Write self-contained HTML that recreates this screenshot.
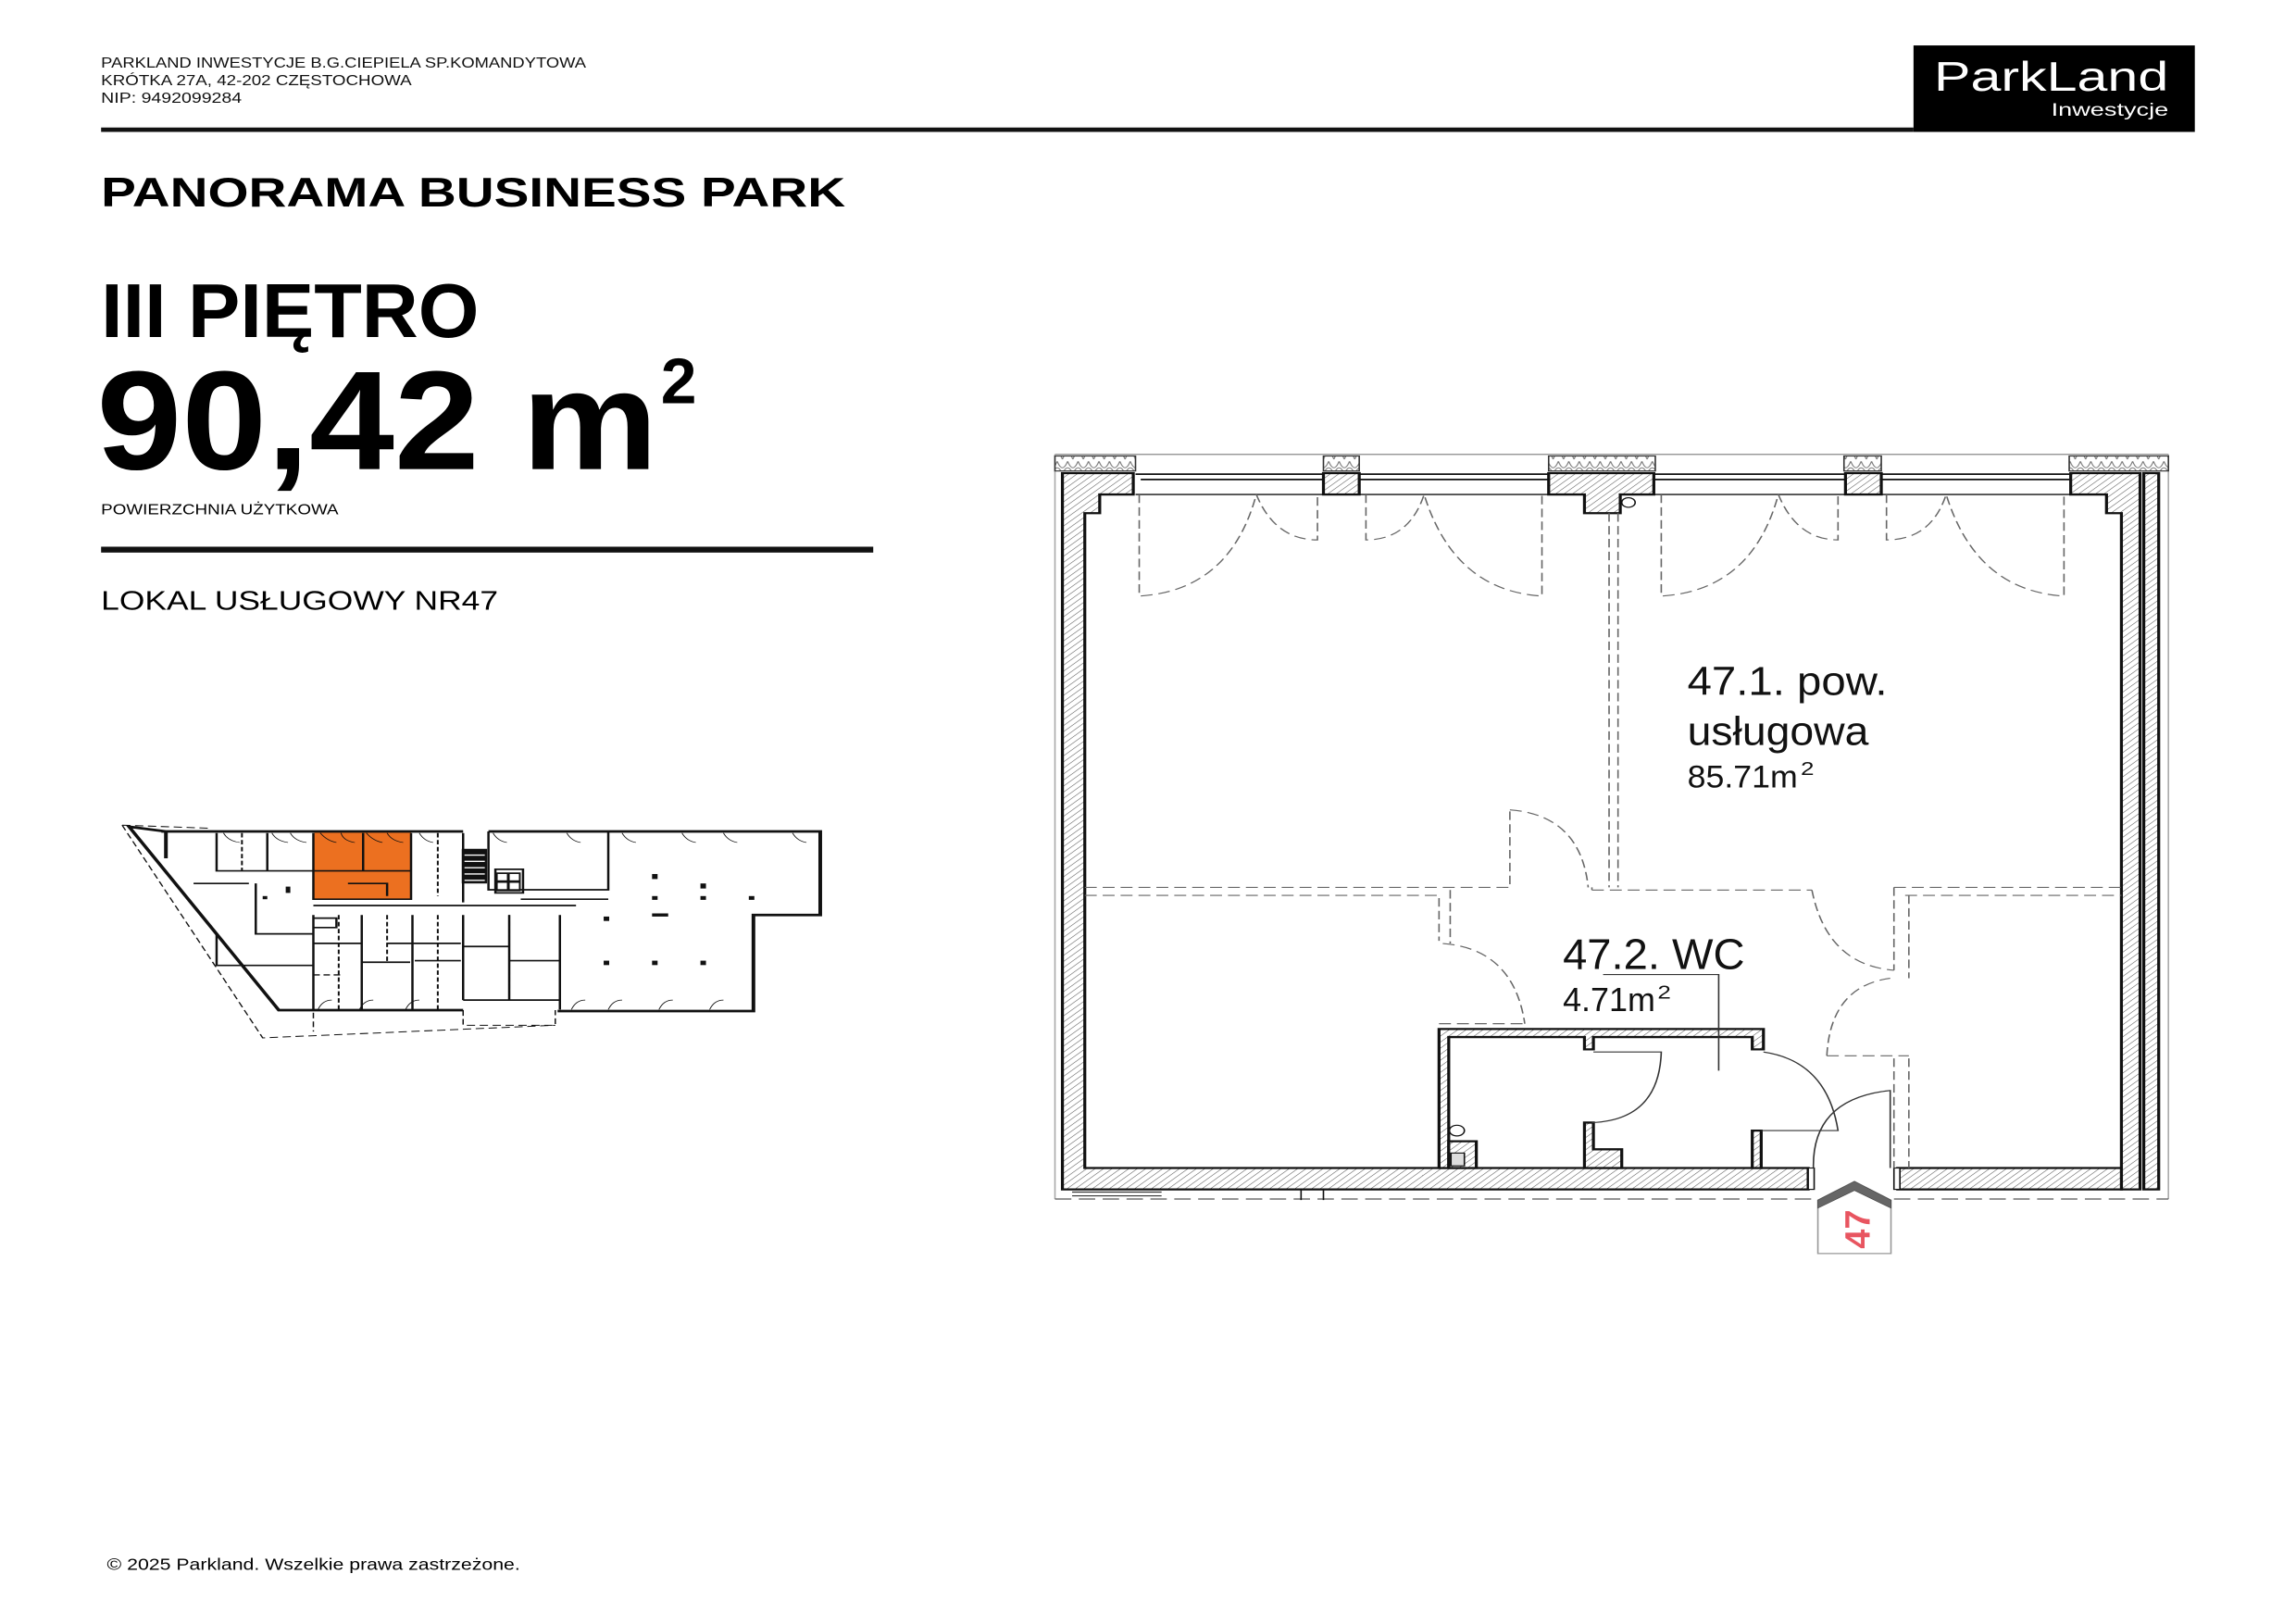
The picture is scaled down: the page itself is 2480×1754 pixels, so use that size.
<!DOCTYPE html>
<html><head><meta charset="utf-8"><style>
html,body{margin:0;padding:0;background:#fff;}
svg{display:block;}
</style></head><body>
<svg width="2480" height="1754" viewBox="0 0 1560 1103" preserveAspectRatio="none" xmlns="http://www.w3.org/2000/svg" font-family="Liberation Sans, DejaVu Sans, sans-serif">
<defs>
<pattern id="h" width="8" height="8" patternUnits="userSpaceOnUse" patternTransform="rotate(45)">
<rect width="8" height="8" fill="#fff"/><line x1="0" y1="0" x2="0" y2="8" stroke="#555" stroke-width="1.6"/></pattern>
<pattern id="z" width="14" height="28" patternUnits="userSpaceOnUse">
<rect width="14" height="28" fill="#fff"/><path d="M0 2 Q7 26 14 2" fill="none" stroke="#777" stroke-width="1.5"/><path d="M-7 26 Q0 2 7 26 M7 26 Q14 2 21 26" fill="none" stroke="#777" stroke-width="1.5"/></pattern>
</defs>
<rect width="1560" height="1103" fill="#fff"/>
<g transform="scale(0.9955)">
<g font-size="10" fill="#111">
<text x="69" y="46" textLength="331" lengthAdjust="spacingAndGlyphs">PARKLAND INWESTYCJE B.G.CIEPIELA SP.KOMANDYTOWA</text>
<text x="69" y="58" textLength="212" lengthAdjust="spacingAndGlyphs">KRÓTKA 27A, 42-202 CZĘSTOCHOWA</text>
<text x="69" y="70" textLength="96" lengthAdjust="spacingAndGlyphs">NIP: 9492099284</text>
</g>
<rect x="69" y="87" width="1237" height="3" fill="#111"/>
<rect x="1306" y="31" width="192" height="59" fill="#000"/>
<text x="1320" y="62" fill="#fff" font-size="28" textLength="160" lengthAdjust="spacingAndGlyphs">ParkLand</text>
<text x="1400" y="79" fill="#fff" font-size="12" textLength="80" lengthAdjust="spacingAndGlyphs">Inwestycje</text>
<text x="69" y="141" font-size="28" font-weight="bold" textLength="508" lengthAdjust="spacingAndGlyphs">PANORAMA BUSINESS PARK</text>
<text x="69" y="230" font-size="52" font-weight="bold" textLength="258" lengthAdjust="spacingAndGlyphs">III PIĘTRO</text>
<text x="66" y="320" font-size="96" font-weight="bold" textLength="383" lengthAdjust="spacingAndGlyphs">90,42 m</text>
<text x="451" y="275" font-size="44" font-weight="bold">2</text>
<text x="69" y="351" font-size="10" textLength="162" lengthAdjust="spacingAndGlyphs">POWIERZCHNIA UŻYTKOWA</text>
<rect x="69" y="373" width="527" height="4" fill="#111"/>
<text x="69" y="416" font-size="18" textLength="271" lengthAdjust="spacingAndGlyphs">LOKAL USŁUGOWY NR47</text>
<text x="73" y="1071" font-size="11" textLength="282" lengthAdjust="spacingAndGlyphs">© 2025 Parkland. Wszelkie prawa zastrzeżone.</text>

<g transform="translate(75.5,553.3) scale(0.3145,0.215)" fill="none" stroke="#111">
<rect x="442" y="68" width="210" height="210" fill="#ec7020" stroke="none"/>
<path d="M110 65 H765 M820 65 H1540 V330 H1395 V635 H970 M765 632 H365 L40 50 L120 65 V150" stroke-width="8"/>
<path d="M25 45 L220 55 M25 45 L330 720 L965 680 M440 640 V700 M765 632 V680 H965 V632 M370 632 H440" stroke-width="3" stroke-dasharray="18 10"/>
<g stroke-width="5">
<path d="M230 70 V190 H440 M440 70 V280 H652 V70 M652 70 V278 M765 70 V290 M820 65 V250 H1080 V65 M1080 280 H890 M340 70 V190 M440 190 H652 M548 70 V190"/>
<path d="M440 300 H1010 M440 330 V630 M655 330 V630 M765 330 V600 M975 330 V630 M545 330 V630 M865 330 V600 M315 230 V390 H440 M230 390 V490 H440 M180 230 H300 M765 600 H975"/>
<path d="M440 420 H545 M600 420 H760 M765 430 H865 M545 480 H650 M660 475 H760 M865 475 H975 M515 230 H600 V270 M835 185 H895 V260 H835 Z M440 340 H490 V370 H440"/>
</g>
<g stroke-width="4" stroke-dasharray="14 8"><path d="M285 70 V190 M440 520 H500 M495 330 V630 M600 330 V480 M710 330 V630 M865 330 V600 M710 70 V270"/></g>
<g fill="#111" stroke="none"><rect x="1175" y="200" width="12" height="16"/><rect x="1280" y="230" width="12" height="16"/><rect x="1175" y="270" width="12" height="12"/><rect x="1280" y="270" width="12" height="12"/><rect x="1385" y="270" width="12" height="12"/><rect x="1070" y="335" width="12" height="14"/><rect x="1175" y="325" width="35" height="10"/><rect x="1070" y="475" width="12" height="14"/><rect x="1175" y="475" width="12" height="14"/><rect x="1280" y="475" width="12" height="14"/><rect x="380" y="240" width="10" height="20"/><rect x="330" y="270" width="10" height="10"/><rect x="835" y="195" width="55" height="60"/><rect x="762" y="120" width="55" height="110"/></g>
<rect x="840" y="200" width="20" height="20" fill="#fff" stroke="none"/><rect x="866" y="200" width="20" height="20" fill="#fff" stroke="none"/><rect x="840" y="228" width="20" height="20" fill="#fff" stroke="none"/><rect x="866" y="228" width="20" height="20" fill="#fff" stroke="none"/>
<path d="M768 140 H812 M768 160 H812 M768 180 H812 M768 200 H812 M768 220 H812" stroke="#fff" stroke-width="4"/>
<g stroke-width="2"><path d="M455 70 Q470 95 490 100 M500 70 Q505 95 530 100 M555 70 Q570 95 590 100 M600 70 Q610 95 635 100 M245 70 Q255 95 280 100 M350 70 Q360 95 385 100 M390 70 Q400 95 425 100 M670 70 Q680 95 700 100 M830 70 Q840 95 860 100 M990 70 Q1000 95 1020 100 M1110 70 Q1120 95 1140 100 M1240 70 Q1250 95 1270 100 M1330 70 Q1340 95 1360 100 M1480 70 Q1490 95 1510 100 M450 630 Q460 600 480 600 M540 630 Q550 600 570 600 M640 630 Q650 600 670 600 M1000 630 Q1010 600 1030 600 M1080 630 Q1090 600 1110 600 M1190 630 Q1200 600 1220 600 M1300 630 Q1310 600 1330 600"/></g>
</g>

<g transform="translate(707.3,293.6) scale(0.509,0.3647)" fill="none" stroke="#111">
<line x1="25" y1="45" x2="1518" y2="45" stroke="#888" stroke-width="2"/>
<line x1="25" y1="45" x2="25" y2="1438" stroke="#aaa" stroke-width="2"/>
<line x1="1518" y1="45" x2="1518" y2="1438" stroke="#aaa" stroke-width="2"/>
<g fill="url(#z)" stroke="#333" stroke-width="2">
<rect x="25" y="48" width="108" height="28"/><rect x="385" y="48" width="48" height="28"/><rect x="687" y="48" width="143" height="28"/><rect x="1083" y="48" width="50" height="28"/><rect x="1385" y="48" width="133" height="28"/>
</g>
<g stroke-width="3"><line x1="133" y1="82" x2="1385" y2="82"/><line x1="140" y1="92" x2="1385" y2="92"/></g>
<line x1="133" y1="120" x2="1455" y2="120" stroke-width="2.5"/>
<g fill="url(#h)" stroke="#111" stroke-width="4">
<path d="M35 80 H130 V120 H85 V155 H65 V1380 H1035 V1420 H35 Z"/>
<rect x="385" y="80" width="48" height="40"/>
<path d="M687 80 H828 V120 H783 V155 H735 V120 H687 Z"/>
<rect x="1085" y="80" width="48" height="40"/>
<path d="M1387 80 H1480 V1420 H1455 V155 H1435 V120 H1387 Z"/>
<path d="M1155 1380 H1455 V1420 H1155 Z"/>
<rect x="1485" y="80" width="20" height="1340"/>
<path d="M540 1120 H975 V1158 H960 V1135 H747 V1158 H735 V1135 H553 V1380 H540 Z"/>
<path d="M553 1330 H590 V1380 H553 Z M735 1295 H747 V1345 H785 V1380 H735 Z M960 1310 H972 V1380 H960 Z"/>
</g>
<rect x="1035" y="1380" width="8" height="40" fill="#fff" stroke-width="2"/>
<rect x="1150" y="1380" width="8" height="40" fill="#fff" stroke-width="2"/>
<circle cx="794" cy="135" r="9" fill="#fff" stroke-width="2"/>
<circle cx="564" cy="1310" r="10" fill="#fff" stroke-width="2"/>
<rect x="556" y="1352" width="18" height="24" fill="#ddd" stroke-width="2"/>
<path d="M25 1438 H1040 M1150 1438 H1518" stroke="#555" stroke-width="2" stroke-dasharray="22 10"/>
<path d="M48 1425 H168 M48 1432 H168" stroke="#333" stroke-width="2"/>
<path d="M355 1420 V1440 M385 1420 V1440" stroke-width="2"/>
<g stroke="#666" stroke-width="2" stroke-dasharray="16 8">
<path d="M768 155 V855 M780 155 V855"/>
<path d="M65 855 H635 V710 M745 855 V860 M745 860 H1040 M65 870 H540 V955 M555 860 V960 M1150 855 H1455 M1165 870 H1455"/>
<path d="M1150 855 V1010 M1170 870 V1025 M1170 1175 V1380 M1150 1175 V1380 M540 1110 H655 M1060 1170 H1170"/>
<path d="M138 120 V310 Q260 300 295 120 Q320 205 377 205 V120"/>
<path d="M442 120 V205 Q500 205 520 120 Q560 300 678 310 V120"/>
<path d="M838 120 V310 Q960 300 995 120 Q1020 205 1075 205 V120"/>
<path d="M1140 120 V205 Q1200 205 1220 120 Q1260 300 1378 310 V120"/>
<path d="M635 710 Q730 720 740 855"/>
<path d="M1040 860 Q1060 1000 1150 1010"/>
<path d="M1060 1170 Q1065 1040 1145 1025"/>
<path d="M545 960 Q640 970 655 1110"/>
</g>
<g stroke="#333" stroke-width="2">
<path d="M745 1295 Q835 1290 838 1163 H747"/>
<path d="M975 1163 Q1060 1180 1075 1310 H972"/>
<path d="M1042 1380 Q1040 1250 1145 1235 V1380"/>
<path d="M760 1018 H915 V1198"/>
</g>
<g fill="#111" stroke="none">
<text x="873" y="495" font-size="76" textLength="268" lengthAdjust="spacingAndGlyphs">47.1. pow.</text>
<text x="873" y="588" font-size="76" textLength="243" lengthAdjust="spacingAndGlyphs">usługowa</text>
<text x="873" y="668" font-size="60" textLength="148" lengthAdjust="spacingAndGlyphs">85.71m</text>
<text x="1025" y="645" font-size="36" textLength="18" lengthAdjust="spacingAndGlyphs">2</text>
<text x="706" y="1008" font-size="80" textLength="244" lengthAdjust="spacingAndGlyphs">47.2. WC</text>
<text x="706" y="1086" font-size="62" textLength="124" lengthAdjust="spacingAndGlyphs">4.71m</text>
<text x="833" y="1063" font-size="36" textLength="18" lengthAdjust="spacingAndGlyphs">2</text>
</g>
<path d="M1048 1540 V1440 L1097 1405 L1146 1440 V1540 Z" fill="#fff" stroke="#999" stroke-width="2"/>
<path d="M1048 1440 L1097 1405 L1146 1440 L1146 1455 L1097 1422 L1048 1455 Z" fill="#666" stroke="#444" stroke-width="1"/>
</g>
<text transform="translate(1276,852) rotate(-90)" font-size="24" font-weight="bold" fill="#e85560">47</text>
</g>
</svg>
</body></html>
